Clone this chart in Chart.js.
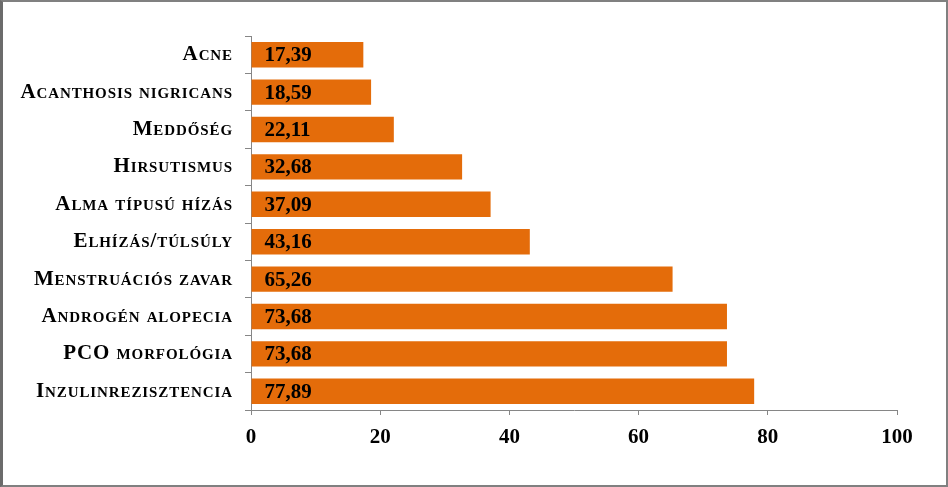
<!DOCTYPE html>
<html>
<head>
<meta charset="utf-8">
<script src="https://cdn.jsdelivr.net/npm/chart.js@4/dist/chart.umd.min.js"></script>
<style>
	html, body { margin: 0; padding: 0; background: #fff; }
	#wrap { position: relative; width: 948px; height: 487px; }
	#frame {
		position: absolute; left: 0; top: 0; right: 0; bottom: 0;
		border-top: 2px solid #808080; border-left: 3px solid #6b6b6b;
		border-right: 2px solid #808080; border-bottom: 2px solid #808080;
		pointer-events: none;
	}
</style>
</head>
<body>
<div id="wrap">
	<canvas id="myChart" width="948" height="487"></canvas>
	<div id="frame"></div>
</div>
<script>
const labels = ["Acne", "Acanthosis nigricans", "Meddőség", "Hirsutismus", "Alma típusú hízás", "Elhízás/túlsúly", "Menstruációs zavar", "Androgén alopecia", "PCO morfológia", "Inzulinrezisztencia"];
const values = [17.39, 18.59, 22.11, 32.68, 37.09, 43.16, 65.26, 73.68, 73.68, 77.89];
const xTicks = [0, 20, 40, 60, 80, 100];

const serif = "'Liberation Serif', 'Times New Roman', serif";

// small caps labels in the original are a bit looser (x tick labels are drawn later, at z 1)
const spacing = {
	id: "spacing",
	beforeDraw(chart) { chart.ctx.letterSpacing = "0.9px"; },
	beforeDatasetsDraw(chart) { chart.ctx.letterSpacing = "0px"; },
};

// value text inside each bar, comma decimal
const barValues = {
	id: "barValues",
	afterDatasetsDraw(chart) {
		const ctx = chart.ctx;
		const meta = chart.getDatasetMeta(0);
		ctx.save();
		ctx.font = "bold 21px " + serif;
		ctx.fillStyle = "#000";
		ctx.textAlign = "left";
		ctx.textBaseline = "middle";
		meta.data.forEach(function (bar, i) {
			ctx.fillText(values[i].toFixed(2).replace(".", ","), bar.base + 13, bar.y + 1);
		});
		ctx.restore();
	},
};

window.addEventListener(
	"load",
	function () {
		const config = {
			type: "bar",
			data: {
				labels: labels,
				datasets: [
					{
						data: values,
						backgroundColor: "#E46C0A",
						borderWidth: 0,
						barPercentage: 0.68,
						categoryPercentage: 1,
					},
				],
			},
			options: {
				indexAxis: "y",
				responsive: false,
				animation: false,
				layout: { padding: { top: 36, right: 51, left: 0, bottom: 0 } },
				plugins: { legend: { display: false }, tooltip: { enabled: false } },
				scales: {
					x: {
						min: 0,
						max: 100,
						afterBuildTicks: function (scale) {
							scale.ticks = xTicks.map(function (v) { return { value: v }; });
						},
						afterFit: function (scale) { scale.height = 77; },
						grid: { drawOnChartArea: false, drawTicks: true, tickLength: 5, color: "#868686" },
						border: { color: "#868686", width: 1 },
						ticks: { z: 1, color: "#000", padding: 10, font: { family: serif, size: 21, weight: "bold" } },
					},
					y: {
						afterFit: function (scale) { scale.width = 251; },
						grid: { drawOnChartArea: false, drawTicks: true, tickLength: 6, color: "#868686", offset: true },
						border: { color: "#868686", width: 1 },
						ticks: { color: "#000", padding: 12, font: { family: serif, size: 21, weight: "small-caps bold" } },
					},
				},
			},
			plugins: [spacing, barValues],
		};

		const myChart = new Chart(document.getElementById("myChart"), config);
	},
	false
);
</script>
</body>
</html>
